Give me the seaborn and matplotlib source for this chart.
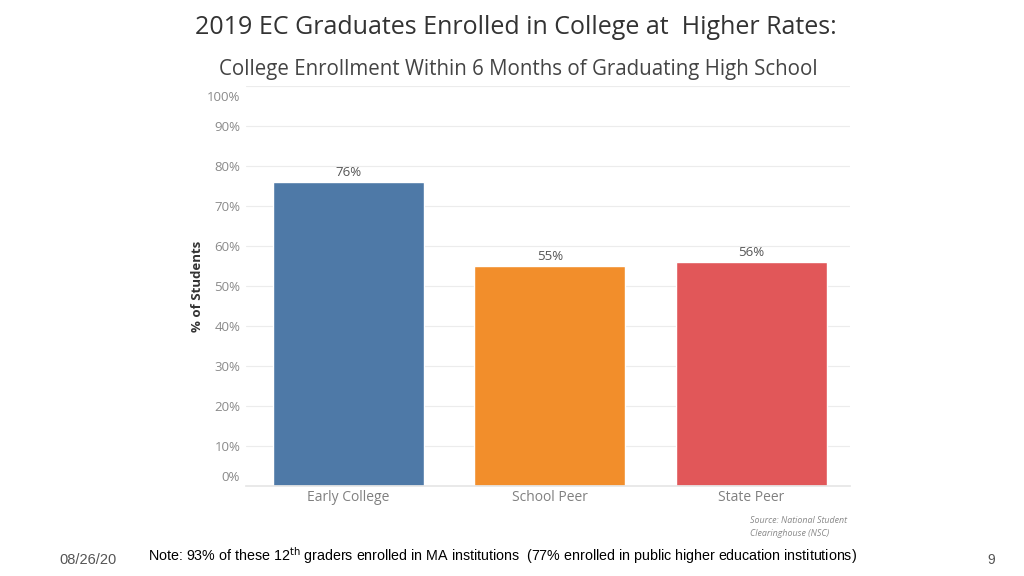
import matplotlib
matplotlib.use("Agg")
import matplotlib.pyplot as plt
import matplotlib.transforms as mtransforms
import seaborn as sns
import pandas as pd

# data
groups = ["Early College", "School Peer", "State Peer"]
enrolled_pct = [76, 55, 56]
bar_colors = ["#4e79a7", "#f28e2b", "#e15759"]
y_ticks = list(range(0, 101, 10))

sns.set_theme(style="white")
plt.rcParams["font.family"] = ["Open Sans", "DejaVu Sans"]

df = pd.DataFrame({"group": groups, "pct": enrolled_pct})

fig = plt.figure(figsize=(10.24, 5.76), dpi=100)
ax = fig.add_axes([0.240, 0.156, 0.590, 0.695])

sns.barplot(data=df, x="group", y="pct", hue="group", palette=bar_colors,
            width=0.75, legend=False, saturation=1, ax=ax)

ax.set_ylim(0, 100)
ax.set_xlim(-0.51, 2.49)
ax.set_yticks(y_ticks)
ax.set_yticklabels([f"{t}%" for t in y_ticks])
ax.yaxis.grid(True, color="#ececec", linewidth=0.8)
ax.set_axisbelow(True)
for s in ["top", "right", "left"]:
    ax.spines[s].set_visible(False)
ax.spines["bottom"].set_color("#e6e6e6")
ax.tick_params(axis="y", length=0, labelsize=9.5, labelcolor="#8a8a8a", pad=4)
ax.tick_params(axis="x", length=0, labelsize=10, labelcolor="#808080", pad=3)

# Tableau nudges the end labels inward
shifts = {0: 10, len(y_ticks) - 1: -10}
for i, lab in enumerate(ax.get_yticklabels()):
    if i in shifts:
        lab.set_transform(lab.get_transform() +
                          mtransforms.ScaledTranslation(0, shifts[i] / 100, fig.dpi_scale_trans))

ax.set_xlabel("")
ax.set_ylabel("% of Students", fontsize=9.5, color="#333333", fontweight="bold", labelpad=2)

for p, v in zip(ax.patches, enrolled_pct):
    ax.annotate(f"{v}%", (p.get_x() + p.get_width() / 2, p.get_height()),
                xytext=(0, 2), textcoords="offset points", ha="center", va="bottom",
                fontsize=9.5, color="#555555")

fig.text(0.504, 0.953, "2019 EC Graduates Enrolled in College at  Higher Rates:",
         ha="center", va="center", fontsize=18, color="#333333")
fig.text(0.506, 0.880, "College Enrollment Within 6 Months of Graduating High School",
         ha="center", va="center", fontsize=14.8, color="#444444")

fig.text(0.732, 0.085, "Source: National Student\nClearinghouse (NSC)", ha="left", va="center",
         fontsize=6.4, style="italic", color="#888888", linespacing=1.7)

fig.text(0.058, 0.027, "08/26/20", ha="left", va="center", fontsize=10.5,
         color="#555555", family=["Liberation Sans", "DejaVu Sans"])
fig.text(0.145, 0.036, r"Note: 93% of these 12$^{\rm th}$ graders enrolled in MA institutions  (77% enrolled in public higher education institutions)",
         ha="left", va="center", fontsize=10.25, color="#000000",
         family=["Liberation Sans", "DejaVu Sans"])
fig.text(0.968, 0.027, "9", ha="center", va="center", fontsize=10,
         color="#555555", family=["Liberation Sans", "DejaVu Sans"])

fig.savefig("out.png", dpi=100, facecolor="white")
